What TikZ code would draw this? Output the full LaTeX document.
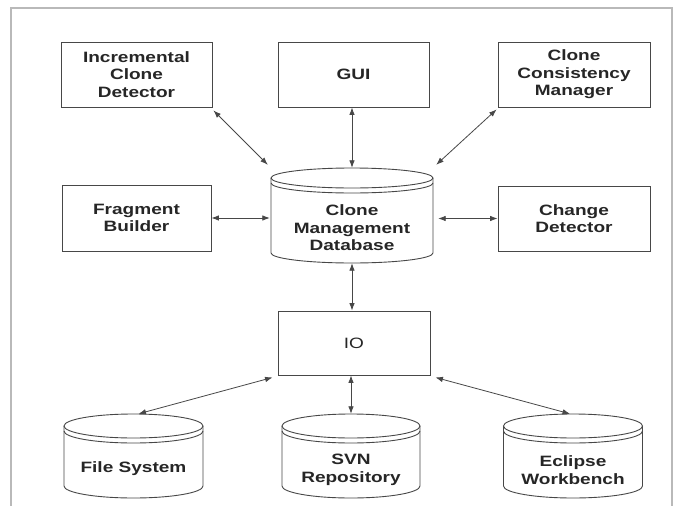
\documentclass[tikz,border=0pt]{standalone}
\usepackage{fontspec}
\setmainfont[FakeStretch=1.27]{Liberation Sans}
\usetikzlibrary{arrows.meta,calc}
\newcommand\dbcyl[8]{% name, cx, top, halfwidth, bottom, ry, rim offset, text y
  \draw[shapeline] (#2,{-(#3)-(#6)}) ellipse [x radius=#4, y radius=#6];
  \draw[shapeline] ({#2-#4},{-(#3)-(#6)}) -- ({#2-#4},{-(#5)+(#6)})
     arc[start angle=180,end angle=360,x radius=#4,y radius=#6] -- ({#2+#4},{-(#3)-(#6)});
  \draw[shapeline] ({#2-#4},{-(#3)-(#6)-(#7)}) arc[start angle=180,end angle=360,x radius=#4,y radius=#6];
  \path node[inner sep=0pt,minimum width={2*(#4)},minimum height={(#5)-(#3)}] (#1) at (#2,{-((#3)+(#5))/2}) {};
}
\tikzset{
  shapeline/.style={draw=black!72,line width=0.9pt},
  box/.style={shapeline,rectangle,inner sep=0pt,align=center,text=black!85,
    font=\fontsize{15}{17.5}\selectfont\bfseries},
  lbl/.style={inner sep=0pt,align=center,text=black!85,font=\fontsize{15}{17.5}\selectfont\bfseries},
  conn/.style={draw=black!72,line width=0.8pt,{Latex[length=7.5pt,width=5.5pt]}-{Latex[length=7.5pt,width=5.5pt]}}
}
\begin{document}
\begin{tikzpicture}[x=1pt,y=1pt]
\useasboundingbox (0,0) rectangle (675,-506);
\fill[white] (0,0) rectangle (675,-506);
\draw[gray!55,line width=1.6pt] (11,-506) -- (11,-8) -- (672,-8) -- (672,-506);

\node[box,minimum width=151pt,minimum height=65pt] (inc) at (136.5,-74.5) {Incremental\\Clone\\Detector};
\node[box,minimum width=151pt,minimum height=65pt] (gui) at (353.5,-74.5) {GUI};
\node[box,minimum width=152pt,minimum height=65pt] (ccm) at (574,-74.5) {Clone\\Consistency\\Manager};
\node[box,minimum width=149pt,minimum height=66pt] (fb) at (136.5,-218) {Fragment\\Builder};
\node[box,minimum width=152pt,minimum height=65pt] (cd) at (574,-218.5) {Change\\Detector};
\node[box,minimum width=152pt,minimum height=64pt,font=\fontsize{15}{17.5}\selectfont] (io) at (354,-343) {IO};

\dbcyl{db}{352}{168}{81}{263}{10}{5}{227}
\node[lbl] (dbt) at (352,-228) {Clone\\Management\\Database};

\dbcyl{fs}{133.5}{414}{69.5}{498}{12}{5}{468}
\node[lbl] (fst) at (133.5,-469) {File System};
\dbcyl{svn}{351}{414}{69}{498}{12}{5}{468}
\node[lbl] (svnt) at (351,-470) {SVN\\Repository};
\dbcyl{ecl}{573}{414}{69.5}{498}{12}{5}{468}
\node[lbl] (eclt) at (573,-470) {Eclipse\\Workbench};

\draw[conn] ($(inc.south east)+(1,-3)$) -- ($(db.north west)+(-3,3)$);
\draw[conn] (gui.south -| db.north) -- (db.north);
\draw[conn] ($(ccm.south west)+(-1,-2)$) -- ($(db.north east)+(3,3)$);
\draw[conn] (fb.east) -- ($(db.west |- fb.east)+(-1,0)$);
\draw[conn] (cd.west) -- ($(db.east |- cd.west)+(5,0)$);
\draw[conn] (db.south) -- (io.north -| db.south);
\draw[conn] ($(io.south west)+(-5,-2)$) -- ($(fs.north)+(5,0)$);
\draw[conn] (io.south -| svn.north) -- (svn.north);
\draw[conn] ($(io.south east)+(5,-2)$) -- ($(ecl.north)+(-3,0)$);
\end{tikzpicture}
\end{document}
